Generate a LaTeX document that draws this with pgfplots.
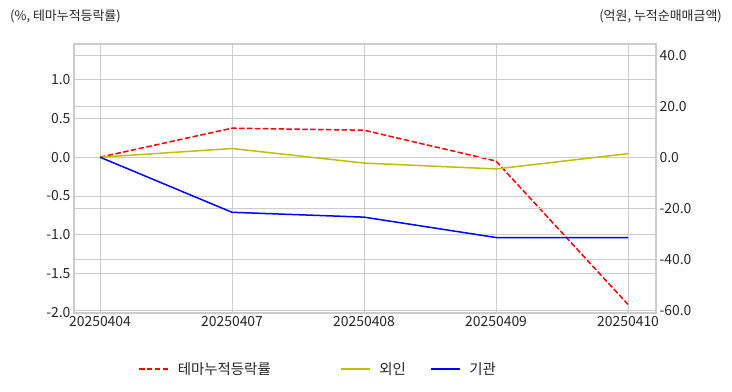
\documentclass[border=0pt]{standalone}
\usepackage{fontspec}
\setmainfont{Noto Sans CJK KR}
\usepackage{pgfplots}
\pgfplotsset{compat=1.18}
\definecolor{gridc}{HTML}{CCCCCC}
\definecolor{txt}{HTML}{262626}
\definecolor{yel}{rgb}{0.75,0.75,0}
\pgfplotsset{common/.style={
  scale only axis, width=582bp, height=269bp,
  xmin=-0.197, xmax=4.212,
  axis line style={gridc, line width=1.25bp},
  major tick length=0pt,
  tick label style={font=\fontsize{14}{16}\selectfont, text=txt},
  /pgf/number format/assume math mode=true,
  yticklabel style={/pgf/number format/fixed, /pgf/number format/fixed zerofill, /pgf/number format/precision=1},
  grid style={gridc, line width=0.8bp},
}}
\begin{document}
\begin{tikzpicture}
\path[use as bounding box] (-74bp,-79bp) rectangle (658bp,313bp);
\begin{axis}[common,
  ymin=-2.01, ymax=1.46, ytick={-2,-1.5,-1,-0.5,0,0.5,1},
  xtick={0,1,2,3,4}, xticklabels={20250404,20250407,20250408,20250409,20250410},
  grid=major]
\addplot[red, line width=1.5bp, dash pattern=on 5.5bp off 2.4bp] coordinates {(0,0) (1,0.374) (2,0.348) (3,-0.05) (4,-1.90)};
\end{axis}
\begin{axis}[common,
  ymin=-61.1, ymax=44.4, ytick={-60,-40,-20,0,20,40},
  xtick=\empty, yticklabel pos=right, ymajorgrids,
  legend columns=3,
  legend image code/.code={\draw[#1] (0bp,0bp) -- (29bp,0bp); \path (36bp,0bp);},
  legend style={draw=none, fill=none, font=\fontsize{14.5}{16}\selectfont, text=txt,
    at={(axis description cs:0.105,-0.208)}, anchor=west,
    /tikz/every even column/.append style={column sep=22bp}},
  legend cell align=left]
\addlegendimage{red, line width=1.5bp, dash pattern=on 5.5bp off 2.4bp}
\addlegendentry{테마누적등락률\rule{45bp}{0pt}}
\addplot[yel, line width=1.5bp] coordinates {(0,0) (1,3.4) (2,-2.3) (3,-4.6) (4,1.4)};
\addlegendentry{외인}
\addplot[blue, line width=1.5bp] coordinates {(0,0) (1,-21.6) (2,-23.5) (3,-31.5) (4,-31.5)};
\addlegendentry{기관}
\end{axis}
\node[anchor=west, text=txt, font=\fontsize{13}{14}\selectfont, inner sep=0pt] at (-64bp,297bp) {(\%, 테마누적등락률)};
\node[anchor=east, text=txt, font=\fontsize{13}{14}\selectfont, inner sep=0pt] at (648bp,297bp) {(억원, 누적순매매금액)};
\end{tikzpicture}
\end{document}
